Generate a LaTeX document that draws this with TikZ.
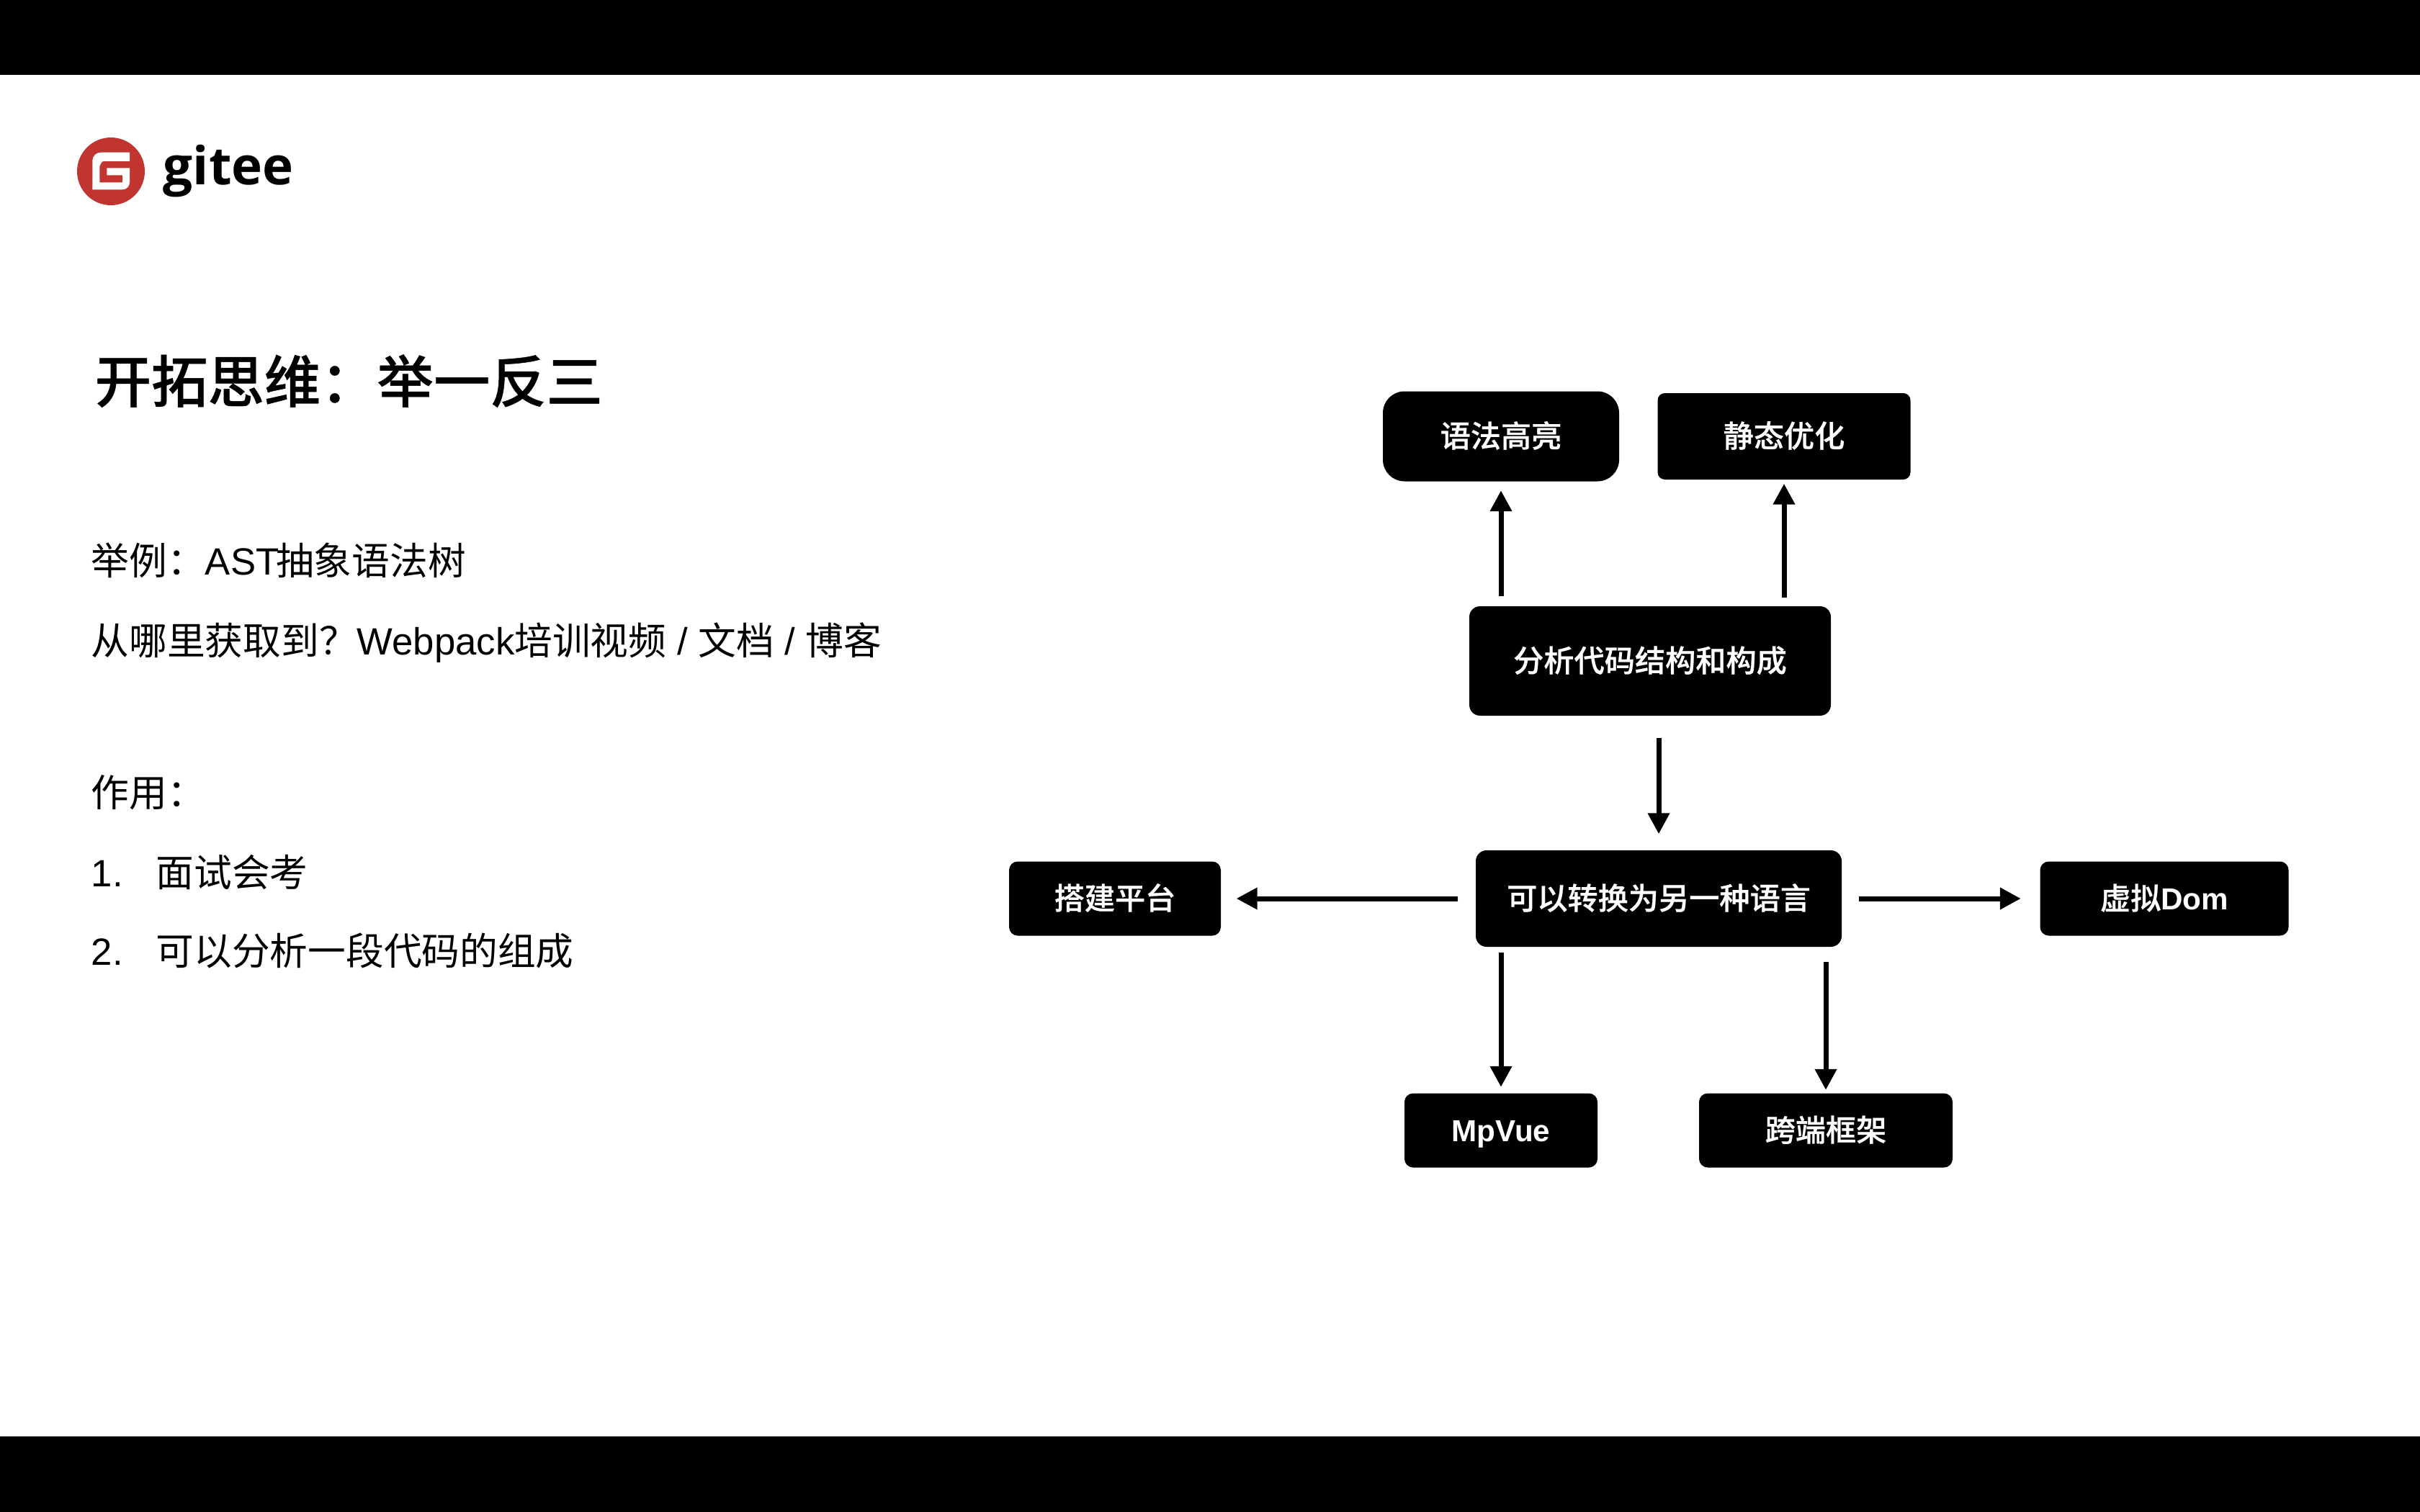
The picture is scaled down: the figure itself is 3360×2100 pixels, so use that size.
\documentclass[tikz,border=0pt]{standalone}
\usepackage{fontspec}
\setmainfont{Liberation Sans}
\newfontfamily\cjk[BoldFont={Noto Sans CJK SC Medium},BoldFeatures={FakeBold=0.6}]{Noto Sans CJK SC}
\newfontfamily\logofont{Open Sans}
\newcommand{\zh}[1]{{\cjk #1}}
\usetikzlibrary{arrows.meta}
\definecolor{giteered}{HTML}{C0352F}
\tikzset{
    boxnode/.style={fill=black, text=white, inner sep=0pt, rounded corners=1.2mm, text height=0.93em, text depth=0.07em, font=\fontsize{12}{14}\selectfont\bfseries},
    bodytext/.style={anchor=base west, inner sep=0pt, font=\fontsize{15}{18}\selectfont},
    flowarrow/.style={line width=0.7mm, -{Triangle[width=2.9mm,length=2.9mm]}}
}
\begin{document}
\begin{tikzpicture}[x=0.1mm,y=-0.1mm]
            \useasboundingbox (0,0) rectangle (3360,2100);
            \fill[white] (0,0) rectangle (3360,2100);
            \fill[black] (0,0) rectangle (3360,104);
            \fill[black] (0,1995) rectangle (3360,2100);
            \fill[giteered] (154,238) circle (47);
            \fill[white] (180,211.7) -- (140,211.7) to[out=180,in=90] (128.3,223.3) -- (128.3,263.3) -- (170,263.3) to[out=0,in=-90] (180,253.3) -- (180,233.3) -- (148.3,233.3) -- (148.3,243.3) -- (170,243.3) -- (170,253.3) -- (138.3,253.3) -- (138.3,230) to[out=-90,in=180] (143.3,224) -- (180,224) -- cycle;
            \node (logo) at (226,257) [anchor=base west, inner sep=0pt, font=\fontsize{20.7}{24}\selectfont\logofont\bfseries] {gitee};
            \node (title) at (131,559) [anchor=base west, inner sep=0pt, font=\fontsize{22.3}{26}\selectfont\bfseries] {\zh{开拓思维：举一反三}};
            \node (line1) at (126,798) [bodytext] {\zh{举例：}AST\kern-1.2pt\zh{抽象语法树}};
            \node (line2) at (126,909) [bodytext] {\zh{从哪里获取到？}Webpack\zh{培训视频} / \zh{文档} / \zh{博客}};
            \node (line3) at (126,1120) [bodytext] {\zh{作用：}};
            \node (num1) at (126,1231) [bodytext] {1.};
            \node (item1) at (216,1231) [bodytext] {\zh{面试会考}};
            \node (num2) at (126,1340) [bodytext] {2.};
            \node (item2) at (216,1340) [bodytext] {\zh{可以分析一段代码的组成}};
            \node (yufa) at (2084,606) [boxnode, minimum width=32.8mm, minimum height=12.5mm, rounded corners=3mm] {\zh{语法高亮}};
            \node (jingtai) at (2477,606) [boxnode, minimum width=35.1mm, minimum height=12mm, rounded corners=1mm] {\zh{静态优化}};
            \node (fenxi) at (2291,918) [boxnode, minimum width=50.2mm, minimum height=15.2mm, rounded corners=1.5mm] {\zh{分析代码结构和构成}};
            \node (zhuanhuan) at (2303,1248) [boxnode, minimum width=50.8mm, minimum height=13.4mm, rounded corners=1.5mm] {\zh{可以转换为另一种语言}};
            \node (pingtai) at (1548,1248) [boxnode, minimum width=29.4mm, minimum height=10.3mm] {\zh{搭建平台}};
            \node (vdom) at (3005,1248) [boxnode, minimum width=34.5mm, minimum height=10.3mm] {\zh{虚拟}Dom};
            \node (mpvue) at (2084,1570) [boxnode, minimum width=26.8mm, minimum height=10.3mm] {MpVue};
            \node (kuaduan) at (2535,1570) [boxnode, minimum width=35.2mm, minimum height=10.3mm] {\zh{跨端框架}};
            \draw[flowarrow, shorten <=1.3mm, shorten >=1.2mm] (fenxi.north -| yufa.south) -- (yufa.south);
            \draw[flowarrow, shorten <=1.1mm, shorten >=0.5mm] (fenxi.north -| jingtai.south) -- (jingtai.south);
            \draw[flowarrow, shorten <=3mm, shorten >=2.2mm] (fenxi.south -| zhuanhuan.north) -- (zhuanhuan.north);
            \draw[flowarrow, shorten <=2.4mm, shorten >=2.1mm] (zhuanhuan.west) -- (pingtai.east);
            \draw[flowarrow, shorten <=2.3mm, shorten >=2.6mm] (zhuanhuan.east) -- (vdom.west);
            \draw[flowarrow, shorten <=0.7mm, shorten >=0.8mm] (zhuanhuan.south -| mpvue.north) -- (mpvue.north);
            \draw[flowarrow, shorten <=2mm, shorten >=0.4mm] (zhuanhuan.south -| kuaduan.north) -- (kuaduan.north);
        \end{tikzpicture}
\end{document}
